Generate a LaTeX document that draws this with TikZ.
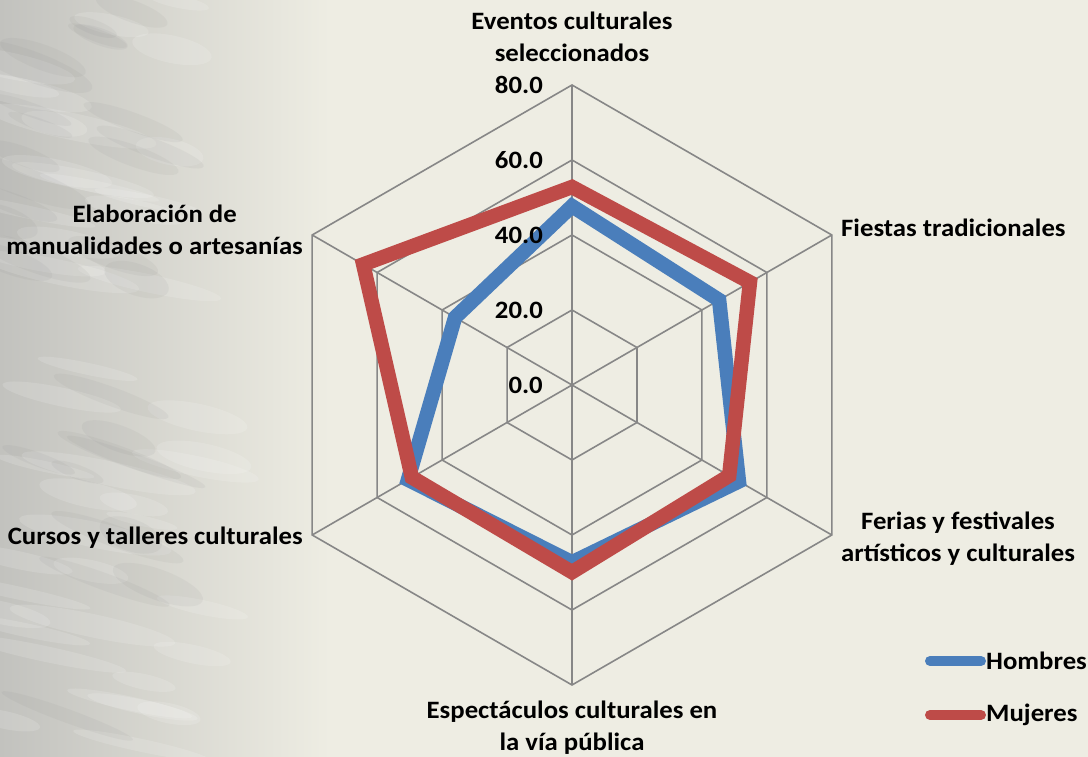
\documentclass[tikz,border=0pt]{standalone}
\usepackage{fontspec}
\setmainfont{Carlito}[FakeStretch=1.07]
\usetikzlibrary{positioning}
\definecolor{bgBeige}{HTML}{EEEDE3}
\definecolor{bgGray}{HTML}{C2C2BE}
\definecolor{gridGray}{HTML}{878787}
\definecolor{hombresBlue}{HTML}{4A7EBB}
\definecolor{mujeresRed}{HTML}{BE4B48}
\tikzstyle{gridLine} = [draw=gridGray, line width=1.6]
\tikzstyle{series} = [line width=14.5, line join=miter]
\tikzstyle{legendLine} = [line width=10, line cap=round]
\tikzstyle{lightStreak} = [fill=white, opacity=0.14]
\tikzstyle{darkStreak} = [fill=gray, opacity=0.08]
\tikzstyle{axisLabel} = [
  font=\fontsize{25}{32}\selectfont\bfseries,
  align=center,
  inner sep=0]
\tikzstyle{tickLabel} = [
  font=\fontsize{25}{30}\selectfont\bfseries,
  anchor=east,
  inner sep=0]

\begin{document}
\begin{tikzpicture}[x=1pt, y=1pt]
  \useasboundingbox (0,0) rectangle (1088,757);
  % background
  \fill[bgBeige] (0,0) rectangle (1088,757);
  \shade[left color=bgGray, right color=bgBeige] (0,0) rectangle (330,757);
  \pgfmathsetseed{7}
  \foreach \k in {1,...,45} {
    \pgfmathsetmacro{\sx}{rnd*220}
    \pgfmathsetmacro{\sy}{rnd*757}
    \fill[lightStreak, rotate around={-12:(\sx,\sy)}] (\sx,\sy) ellipse ({30+rnd*60} and {5+rnd*9});
  }
  \foreach \k in {1,...,30} {
    \pgfmathsetmacro{\sx}{rnd*160}
    \pgfmathsetmacro{\sy}{rnd*757}
    \fill[darkStreak, rotate around={-20:(\sx,\sy)}] (\sx,\sy) ellipse ({25+rnd*50} and {6+rnd*10});
  }
  \begin{scope}[shift={(572,372)}]
    \coordinate (center) at (0,0);
    % grid
    \foreach \r in {75,150,225,300} {
      \draw[gridLine] (90:\r) -- (30:\r) -- (-30:\r) -- (-90:\r) -- (-150:\r) -- (150:\r) -- cycle;
    }
    \foreach \a [count=\i] in {90,30,-30,-90,-150,150} {
      \coordinate (ax\i) at (\a:300);
      \draw[gridLine] (center) -- (ax\i);
    }
    % data
    \foreach \a/\v [count=\i] in {90/47.7,30/45.3,-30/51.4,-90/47.3,-150/50.5,150/36.0} {
      \coordinate (h\i) at (\a:{3.75*\v});
    }
    \foreach \a/\v [count=\i] in {90/52.8,30/54.8,-30/48.4,-90/49.9,-150/49.3,150/64.3} {
      \coordinate (m\i) at (\a:{3.75*\v});
    }
    \draw[series, draw=hombresBlue] (h1) -- (h2) -- (h3) -- (h4) -- (h5) -- (h6) -- cycle;
    \draw[series, draw=mujeresRed] (m1) -- (m2) -- (m3) -- (m4) -- (m5) -- (m6) -- cycle;
    % ticks
    \foreach \v [count=\i] in {0.0,20.0,40.0,60.0,80.0} {
      \node[tickLabel] (tick\i) at (-29,{75*(\i-1)}) {\v};
    }
  \end{scope}
  % category labels
  \node[axisLabel] (lblEventos) at (572,720) {Eventos culturales\\seleccionados};
  \node[axisLabel, anchor=west] (lblFiestas) at (841,529) {Fiestas tradicionales};
  \node[axisLabel] (lblFerias) at (958,218) {Ferias y festivales\\art\'isticos y culturales};
  \node[axisLabel] (lblEspectaculos) at (572,29) {Espect\'aculos culturales en\\la v\'ia p\'ublica};
  \node[axisLabel, anchor=east] (lblCursos) at (303,219) {Cursos y talleres culturales};
  \node[axisLabel, anchor=east] (lblElaboracion) at (303,527) {Elaboraci\'on de\\manualidades o artesan\'ias};
  % legend
  \node[axisLabel, anchor=west] (legHombres) at (986,96) {Hombres};
  \node[axisLabel, anchor=west] (legMujeres) at (986,42) {Mujeres};
  \coordinate[left=56pt of legHombres.west] (legHstart);
  \coordinate[left=5pt of legHombres.west] (legHend);
  \coordinate[left=56pt of legMujeres.west] (legMstart);
  \coordinate[left=5pt of legMujeres.west] (legMend);
  \draw[legendLine, draw=hombresBlue] (legHstart) -- (legHend);
  \draw[legendLine, draw=mujeresRed] (legMstart) -- (legMend);
\end{tikzpicture}
\end{document}
